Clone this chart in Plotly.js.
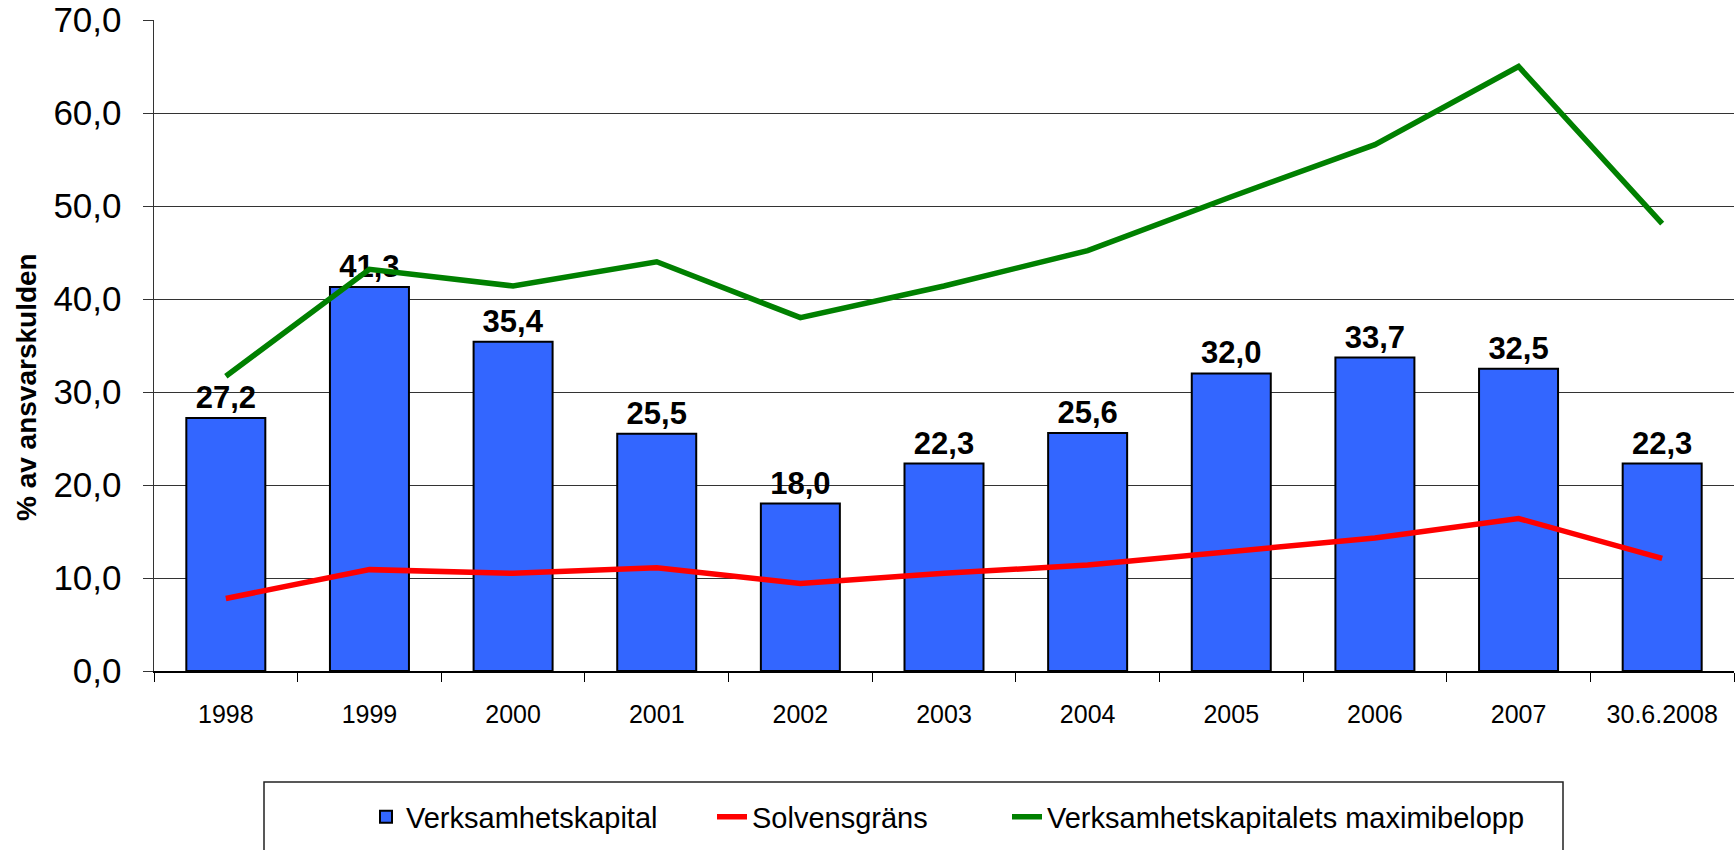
<!DOCTYPE html>
<html>
<head>
<meta charset="utf-8">
<script src="https://cdn.plot.ly/plotly-3.0.1.min.js"></script>
<style>
  html, body { margin: 0; padding: 0; background: #ffffff; }
  #chart { width: 1735px; height: 850px; }
</style>
</head>
<body>
<div id="chart"></div>
<script>
const categories = ["1998", "1999", "2000", "2001", "2002", "2003", "2004", "2005", "2006", "2007", "30.6.2008"];
const verksamhetskapital = [27.2, 41.3, 35.4, 25.5, 18.0, 22.3, 25.6, 32.0, 33.7, 32.5, 22.3];
const solvensgrans = [7.8, 10.9, 10.5, 11.1, 9.4, 10.5, 11.4, 12.8, 14.3, 16.4, 12.1];
const maximibelopp = [31.7, 43.2, 41.4, 44.0, 38.0, 41.4, 45.2, 51.0, 56.6, 65.0, 48.1];

const yTitle = "% av ansvarskulden";
const seriesNames = ["Verksamhetskapital", "Solvensgräns", "Verksamhetskapitalets maximibelopp"];

const FONT = "Arial, 'Liberation Sans', sans-serif";

const traces = [
  {
    type: "bar",
    name: seriesNames[0],
    x: categories,
    y: verksamhetskapital,
    marker: { color: "#3366FF", line: { color: "#000000", width: 2 } },
    texttemplate: "%{y:.1f}",
    textposition: "outside",
    cliponaxis: false,
    textfont: { family: FONT, size: 31, color: "#000000", weight: 700 },
    legend: "legend",
    hoverinfo: "x+y"
  },
  {
    type: "scatter",
    mode: "lines",
    name: seriesNames[1],
    x: categories,
    y: solvensgrans,
    line: { color: "#FF0000", width: 5.5 },
    legend: "legend2"
  },
  {
    type: "scatter",
    mode: "lines",
    name: seriesNames[2],
    x: categories,
    y: maximibelopp,
    line: { color: "#008000", width: 5.5 },
    legend: "legend3"
  }
];

const plotL = 154, plotR = 1735 - 1, plotT = 20, plotB = 671;
const pw = plotR - plotL, ph = plotB - plotT;
const px = v => (v - plotL) / pw;
const py = v => (plotB - v) / ph;

const legendBase = {
  orientation: "h",
  font: { family: FONT, size: 29, color: "#000000" },
  bgcolor: "rgba(0,0,0,0)",
  borderwidth: 0,
  yanchor: "middle",
  xanchor: "left",
  y: py(817)
};

const layout = {
  width: 1735,
  height: 850,
  margin: { l: plotL, r: 1735 - plotR, t: plotT, b: 850 - plotB },
  paper_bgcolor: "#ffffff",
  plot_bgcolor: "#ffffff",
  separators: ", ",
  bargap: 0.45,
  showlegend: true,
  font: { family: FONT, color: "#000000" },
  xaxis: {
    type: "category",
    tickson: "boundaries",
    ticks: "outside",
    ticklen: 9,
    tickcolor: "#000000",
    tickwidth: 1,
    showline: true,
    linecolor: "#000000",
    linewidth: 1.5,
    showgrid: false,
    tickfont: { family: FONT, size: 25, color: "#000000" },
    ticklabelstandoff: 20,
    fixedrange: true
  },
  yaxis: {
    range: [0, 70],
    dtick: 10,
    tick0: 0,
    tickformat: ".1f",
    ticks: "outside",
    ticklen: 10,
    tickcolor: "#333333",
    showline: true,
    linecolor: "#333333",
    linewidth: 1.5,
    showgrid: true,
    gridcolor: "#333333",
    gridwidth: 1,
    zeroline: false,
    tickfont: { family: FONT, size: 35, color: "#000000" },
    ticklabelstandoff: 14,
    fixedrange: true
  },
  legend: Object.assign({}, legendBase, { x: px(366) }),
  legend2: Object.assign({}, legendBase, { x: px(712) }),
  legend3: Object.assign({}, legendBase, { x: px(1007) }),
  shapes: [
    {
      type: "rect", xref: "paper", yref: "paper",
      x0: px(264), x1: px(1563), y0: py(782), y1: py(870),
      line: { color: "#222222", width: 1.5 },
      fillcolor: "rgba(0,0,0,0)",
      layer: "below"
    }
  ],
  annotations: [
    {
      text: yTitle,
      xref: "paper", yref: "paper",
      x: px(26), y: py(387),
      xanchor: "center", yanchor: "middle",
      textangle: -90,
      showarrow: false,
      font: { family: FONT, size: 28, color: "#000000", weight: 700 }
    }
  ]
};

Plotly.newPlot("chart", traces, layout, { displayModeBar: false, staticPlot: true });
</script>
</body>
</html>
